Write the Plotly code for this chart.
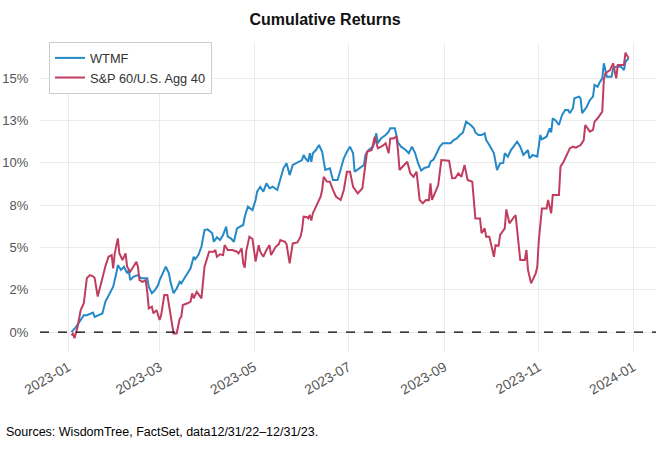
import plotly.graph_objects as go

# ---------------- data ----------------
wtmf_dates = [
    "2023-01-03","2023-01-06","2023-01-09","2023-01-11","2023-01-13","2023-01-15","2023-01-17","2023-01-18",
    "2023-01-20","2023-01-23","2023-01-25","2023-01-28","2023-01-30","2023-02-01","2023-02-02","2023-02-04",
    "2023-02-06","2023-02-08","2023-02-09","2023-02-10","2023-02-12","2023-02-15","2023-02-17","2023-02-21",
    "2023-02-22","2023-02-24","2023-02-26","2023-02-28","2023-03-01","2023-03-03","2023-03-05","2023-03-07",
    "2023-03-08","2023-03-10","2023-03-12","2023-03-14","2023-03-15","2023-03-17","2023-03-21","2023-03-23",
    "2023-03-24","2023-03-26","2023-03-28","2023-03-30","2023-04-01","2023-04-04","2023-04-05","2023-04-07",
    "2023-04-09","2023-04-11","2023-04-13","2023-04-14","2023-04-16","2023-04-18","2023-04-20","2023-04-22",
    "2023-04-24","2023-04-25","2023-04-27","2023-04-30","2023-05-02","2023-05-03","2023-05-05","2023-05-07",
    "2023-05-09","2023-05-11","2023-05-13","2023-05-16","2023-05-18","2023-05-20","2023-05-22","2023-05-24",
    "2023-05-26","2023-05-30","2023-06-01","2023-06-02","2023-06-03","2023-06-05","2023-06-06","2023-06-07",
    "2023-06-08","2023-06-10","2023-06-12","2023-06-14","2023-06-16","2023-06-19","2023-06-21","2023-06-24",
    "2023-06-28","2023-06-30","2023-07-02","2023-07-04","2023-07-05","2023-07-08","2023-07-11","2023-07-12",
    "2023-07-14","2023-07-17","2023-07-19","2023-07-20","2023-07-22","2023-07-25","2023-07-27","2023-07-28",
    "2023-07-31","2023-08-02","2023-08-04","2023-08-07","2023-08-09","2023-08-11","2023-08-13","2023-08-15",
    "2023-08-17","2023-08-19","2023-08-22","2023-08-23","2023-08-25","2023-08-27","2023-08-29","2023-08-31",
    "2023-09-05","2023-09-07","2023-09-09","2023-09-11","2023-09-13","2023-09-15","2023-09-18","2023-09-20",
    "2023-09-21","2023-09-23","2023-09-25","2023-09-27","2023-09-28","2023-09-30","2023-10-03","2023-10-05",
    "2023-10-07","2023-10-09","2023-10-10","2023-10-12","2023-10-14","2023-10-18","2023-10-20","2023-10-22",
    "2023-10-25","2023-10-26","2023-10-28","2023-10-31","2023-11-02","2023-11-03","2023-11-06","2023-11-08",
    "2023-11-09","2023-11-10","2023-11-12","2023-11-14","2023-11-16","2023-11-18","2023-11-20","2023-11-21",
    "2023-11-23","2023-11-24","2023-11-27","2023-11-28","2023-11-29","2023-12-02","2023-12-04","2023-12-06",
    "2023-12-07","2023-12-09","2023-12-10","2023-12-12","2023-12-13","2023-12-15","2023-12-18","2023-12-19",
    "2023-12-21","2023-12-24","2023-12-26","2023-12-27","2023-12-29",
]
wtmf_values = [
    0.0, 0.31, 0.71, 1.0, 1.0, 1.1, 1.15, 0.9,
    1.0, 1.1, 1.8, 2.29, 2.68, 3.47, 3.96, 3.67,
    3.86, 3.47, 3.67, 3.07, 3.27, 3.37, 3.18, 3.18,
    2.68, 2.29, 2.48, 2.78, 3.07, 3.47, 3.86, 3.47,
    2.97, 2.29, 2.58, 2.97, 2.88, 3.18, 3.77, 4.45,
    4.3, 4.55, 5.04, 6.03, 6.07, 5.84, 5.34, 5.6,
    5.44, 5.74, 6.23, 5.64, 5.54, 5.34, 6.13, 6.23,
    6.33, 6.82, 7.41, 7.21, 7.81, 8.3, 8.59, 8.3,
    8.79, 8.5, 8.59, 8.4, 9.09, 9.68, 9.98, 9.28,
    9.88, 10.07, 10.17, 10.47, 10.3, 10.07, 10.57, 10.07,
    10.57, 10.76, 11.06, 10.66, 9.58, 9.68, 8.99, 8.99,
    10.27, 10.66, 10.96, 10.57, 9.48, 9.68, 9.88, 10.47,
    10.76, 10.96, 11.75, 11.16, 11.45, 11.65, 11.85, 12.05,
    12.05, 11.2, 10.96, 10.76, 10.57, 10.96, 10.6, 9.98,
    9.54, 9.7, 9.78, 10.07, 10.2, 10.57, 10.96, 11.16,
    11.16, 11.35, 11.45, 11.65, 11.8, 12.44, 12.24, 12.05,
    11.8, 11.65, 11.65, 11.75, 11.35, 11.06, 10.57, 9.58,
    9.98, 10.0, 10.57, 10.37, 10.76, 11.25, 10.96, 10.47,
    10.76, 10.27, 10.47, 10.37, 11.65, 11.39, 11.55, 12.05,
    11.8, 12.64, 12.5, 12.24, 12.83, 13.13, 13.13, 12.94,
    13.23, 13.82, 13.92, 13.8, 12.94, 13.32, 13.72, 13.92,
    14.61, 14.5, 14.71, 15.0, 15.89, 15.1, 15.1, 15.59,
    15.69, 15.69, 15.49, 15.98, 16.18,
]

bench_dates = [
    "2023-01-03","2023-01-04","2023-01-05","2023-01-07","2023-01-09","2023-01-11","2023-01-13","2023-01-15",
    "2023-01-17","2023-01-18","2023-01-20","2023-01-21","2023-01-24","2023-01-25","2023-01-27","2023-01-29",
    "2023-01-30","2023-01-31","2023-02-02","2023-02-03","2023-02-05","2023-02-07","2023-02-08","2023-02-10",
    "2023-02-12","2023-02-14","2023-02-15","2023-02-16","2023-02-18","2023-02-20","2023-02-21","2023-02-22",
    "2023-02-24","2023-02-25","2023-02-27","2023-03-01","2023-03-02","2023-03-04","2023-03-06","2023-03-08",
    "2023-03-10","2023-03-12","2023-03-14","2023-03-15","2023-03-16","2023-03-19","2023-03-21","2023-03-22",
    "2023-03-23","2023-03-25","2023-03-28","2023-03-30","2023-04-01","2023-04-02","2023-04-05","2023-04-06",
    "2023-04-07","2023-04-09","2023-04-11","2023-04-12","2023-04-14","2023-04-17","2023-04-20","2023-04-21",
    "2023-04-23","2023-04-24","2023-04-25","2023-04-26","2023-04-28","2023-04-30","2023-05-02","2023-05-04",
    "2023-05-05","2023-05-07","2023-05-09","2023-05-11","2023-05-12","2023-05-15","2023-05-17","2023-05-18",
    "2023-05-21","2023-05-22","2023-05-24","2023-05-26","2023-05-29","2023-05-31","2023-06-01","2023-06-02",
    "2023-06-04","2023-06-05","2023-06-06","2023-06-07","2023-06-08","2023-06-10","2023-06-13","2023-06-14",
    "2023-06-15","2023-06-17","2023-06-19","2023-06-21","2023-06-23","2023-06-26","2023-06-28","2023-06-30",
    "2023-07-02","2023-07-04","2023-07-07","2023-07-10","2023-07-12","2023-07-13","2023-07-16","2023-07-18",
    "2023-07-20","2023-07-23","2023-07-25","2023-07-27","2023-07-28","2023-07-30","2023-08-01","2023-08-02",
    "2023-08-03","2023-08-05","2023-08-08","2023-08-10","2023-08-12","2023-08-14","2023-08-16","2023-08-18",
    "2023-08-20","2023-08-22","2023-08-23","2023-08-24","2023-08-27","2023-08-28","2023-08-30","2023-09-01",
    "2023-09-04","2023-09-06","2023-09-08","2023-09-10","2023-09-12","2023-09-14","2023-09-16","2023-09-19",
    "2023-09-21","2023-09-24","2023-09-25","2023-09-27","2023-09-28","2023-09-30","2023-10-03","2023-10-04",
    "2023-10-06","2023-10-07","2023-10-10","2023-10-11","2023-10-13","2023-10-17","2023-10-18","2023-10-20",
    "2023-10-23","2023-10-24","2023-10-25","2023-10-27","2023-10-30","2023-10-31","2023-11-01","2023-11-03",
    "2023-11-06","2023-11-07","2023-11-09","2023-11-10","2023-11-14","2023-11-15","2023-11-17","2023-11-19",
    "2023-11-21","2023-11-23","2023-11-25","2023-11-28","2023-11-30","2023-12-01","2023-12-04","2023-12-06",
    "2023-12-07","2023-12-09","2023-12-12","2023-12-13","2023-12-14","2023-12-17","2023-12-19","2023-12-21",
    "2023-12-22","2023-12-24","2023-12-26","2023-12-27","2023-12-28","2023-12-29",
]
bench_values = [
    -0.2, -0.1, -0.37, 0.31, 1.3, 1.7, 3.2, 3.37,
    3.3, 3.2, 2.1, 2.5, 3.5, 3.9, 4.45, 4.55,
    3.77, 4.65, 5.54, 4.65, 4.26, 4.65, 3.86, 3.57,
    3.86, 4.16, 3.86, 3.07, 2.97, 3.07, 2.38, 1.4,
    1.5, 1.1, 1.3, 0.71, 1.0, 2.19, 2.19, 0.9,
    -0.08, -0.08, 0.8, 0.9, 1.6, 1.7, 1.8, 2.29,
    2.0, 2.38, 1.99, 3.86, 4.55, 4.75, 4.75, 4.85,
    4.45, 4.6, 4.55, 5.14, 4.85, 4.85, 4.75, 4.65,
    4.95, 4.06, 3.8, 4.8, 5.64, 5.5, 4.16, 5.14,
    4.75, 4.45, 4.85, 5.14, 4.55, 5.04, 5.2, 5.44,
    5.34, 5.2, 4.06, 5.24, 5.3, 5.64, 6.03, 6.82,
    6.8, 6.72, 6.92, 6.6, 7.02, 7.41, 8.0, 8.4,
    9.18, 8.9, 8.89, 8.4, 8.0, 7.81, 8.4, 9.48,
    9.48, 8.59, 8.2, 8.5, 9.78, 10.66, 10.76, 11.55,
    10.86, 11.0, 11.16, 10.57, 11.45, 11.45, 11.55, 10.76,
    9.58, 9.78, 10.07, 9.38, 9.18, 9.48, 7.81, 7.61,
    7.81, 7.8, 8.79, 7.81, 8.5, 8.69, 10.17, 10.17,
    10.13, 9.09, 9.1, 9.38, 9.18, 9.88, 8.99, 8.89,
    6.72, 6.72, 5.84, 6.13, 5.64, 5.64, 4.45, 5.14,
    5.1, 5.74, 6.13, 7.25, 6.43, 6.92, 6.03, 4.26,
    4.26, 4.85, 3.67, 2.88, 3.47, 3.86, 5.44, 7.31,
    7.31, 7.81, 7.02, 8.1, 8.1, 9.78, 10.07, 10.47,
    10.86, 10.96, 10.9, 11.06, 11.35, 12.24, 11.85, 11.95,
    12.44, 12.64, 13.03, 14.9, 15.3, 15.49, 15.89, 15.0,
    15.79, 15.79, 15.79, 16.52, 16.38, 16.18,
]

series_names = ["WTMF", "S&P 60/U.S. Agg 40"]
y_tick_vals = [0, 2.5, 5, 7.5, 10, 12.5, 15]
y_tick_text = ["0%", "2%", "5%", "8%", "10%", "13%", "15%"]
x_tick_vals = ["2023-01-01", "2023-03-01", "2023-05-01", "2023-07-01",
               "2023-09-01", "2023-11-01", "2024-01-01"]
x_tick_text = ["2023-01", "2023-03", "2023-05", "2023-07", "2023-09", "2023-11", "2024-01"]

title_text = "Cumulative Returns"
source_text = "Sources: WisdomTree, FactSet, data12/31/22\u201312/31/23."

# ---------------- figure ----------------
BLUE = "#2589c8"
RED = "#c13d60"
FONT = "Liberation Sans, Arial, sans-serif"

fig = go.Figure()
fig.add_trace(go.Scatter(x=wtmf_dates, y=wtmf_values, mode="lines", name=series_names[0],
                         line=dict(color=BLUE, width=2)))
fig.add_trace(go.Scatter(x=bench_dates, y=bench_values, mode="lines", name=series_names[1],
                         line=dict(color=RED, width=2)))

fig.add_shape(type="line", xref="paper", x0=0, x1=1, yref="y", y0=0, y1=0,
              line=dict(color="black", width=1.3, dash="dash"), layer="above")

fig.update_layout(
    width=672, height=450,
    margin=dict(l=40, r=16, t=43, b=98, autoexpand=False),
    paper_bgcolor="white", plot_bgcolor="white",
    font=dict(family=FONT, size=13, color="#555555"),
    title=dict(text="<b>" + title_text + "</b>", x=325 / 672, xanchor="center",
               y=1 - 19 / 450, yanchor="middle",
               font=dict(family=FONT, size=16, color="#111111")),
    showlegend=True,
    legend=dict(x=0.0146, y=1.003, xanchor="left", yanchor="top",
                bgcolor="white", bordercolor="#cccccc", borderwidth=1,
                font=dict(family=FONT, size=12.8, color="#333333"),
                tracegroupgap=0, itemwidth=30),
    annotations=[dict(text=source_text, xref="paper", yref="paper",
                      x=(4 - 40) / 616, y=(352 - 432) / 309,
                      xanchor="left", yanchor="middle", showarrow=False,
                      font=dict(family="Liberation Sans Narrow, Liberation Sans, Arial", size=12.5,
                                color="#000000"))],
)

fig.update_xaxes(type="date", range=["2022-12-13 17:00", "2024-01-15 17:00"],
                 tickvals=x_tick_vals, ticktext=x_tick_text, tickangle=-30,
                 showgrid=True, gridcolor="#ebebeb", gridwidth=1, automargin=False,
                 showline=False, zeroline=False,
                 ticks="outside", ticklen=1, tickcolor="rgba(0,0,0,0)",
                 tickfont=dict(size=13.8, color="#555555"))
fig.update_yaxes(range=[-1.18, 17.09], tickvals=y_tick_vals, ticktext=y_tick_text,
                 showgrid=True, gridcolor="#ebebeb", gridwidth=1, automargin=False,
                 showline=False, zeroline=False,
                 ticks="outside", ticklen=8, tickcolor="rgba(0,0,0,0)",
                 tickfont=dict(size=13, color="#555555"))

fig.write_html("out.html", config={"displayModeBar": False},
               post_script="document.body.style.margin='0';document.body.style.padding='0';")
